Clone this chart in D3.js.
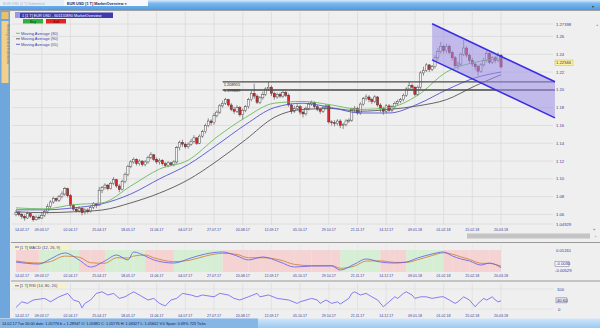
<!DOCTYPE html>
<html>
<head>
<meta charset="utf-8">
<script src="https://cdn.jsdelivr.net/npm/d3@7"></script>
<style>
    body { margin: 0; background: #efefef; overflow: hidden; }
    svg { display: block; font-family: "Liberation Sans", Arial, sans-serif; }
</style>
</head>
<body>
<script>
const width = 600;
const height = 328;

// ---- data ----
const firstDate = "14.02.17";
const dateTicks = ["09.03.17", "02.04.17", "25.04.17", "18.05.17", "11.06.17", "04.07.17", "27.07.17", "20.08.17",
    "12.09.17", "05.10.17", "29.10.17", "21.11.17", "14.12.17", "09.01.18", "01.02.18", "25.02.18", "20.03.18"];
const dateTickIdx = [9, 19, 29, 39, 49, 59, 69, 79, 89, 99, 109, 119, 129, 139, 149, 159, 169];

const firstOpen = 1.060;
const closes = [
    1.062, 1.060, 1.058, 1.056, 1.061, 1.058, 1.054, 1.057, 1.056, 1.059,
    1.063, 1.069, 1.074, 1.078, 1.076, 1.080, 1.083, 1.089, 1.081, 1.070,
    1.066, 1.064, 1.067, 1.062, 1.065, 1.063, 1.068, 1.072, 1.070, 1.087,
    1.090, 1.093, 1.089, 1.095, 1.099, 1.092, 1.088, 1.097, 1.105, 1.114,
    1.119, 1.122, 1.117, 1.120, 1.116, 1.119, 1.124, 1.127, 1.122, 1.119,
    1.121, 1.117, 1.115, 1.118, 1.116, 1.119, 1.135, 1.141, 1.139, 1.136,
    1.139, 1.142, 1.146, 1.140, 1.148, 1.153, 1.160, 1.165, 1.163, 1.171,
    1.175, 1.182, 1.185, 1.189, 1.183, 1.178, 1.176, 1.180, 1.172, 1.177,
    1.181, 1.189, 1.196, 1.193, 1.186, 1.191, 1.195, 1.201, 1.203, 1.196,
    1.192, 1.195, 1.193, 1.197, 1.194, 1.183, 1.176, 1.179, 1.181, 1.175,
    1.173, 1.179, 1.184, 1.186, 1.181, 1.178, 1.176, 1.180, 1.182, 1.164,
    1.163, 1.162, 1.165, 1.160, 1.161, 1.165, 1.166, 1.178, 1.179, 1.174,
    1.184, 1.190, 1.192, 1.189, 1.187, 1.192, 1.183, 1.179, 1.176, 1.182,
    1.177, 1.181, 1.185, 1.187, 1.189, 1.194, 1.201, 1.205, 1.203, 1.195,
    1.203, 1.219, 1.222, 1.228, 1.223, 1.226, 1.236, 1.243, 1.249, 1.244,
    1.249, 1.242, 1.236, 1.227, 1.229, 1.240, 1.247, 1.239, 1.233, 1.229,
    1.226, 1.221, 1.228, 1.233, 1.241, 1.231, 1.236, 1.233, 1.239, 1.2257
];
const highs = [
    1.065, 1.064, 1.062, 1.060, 1.063, 1.062, 1.059, 1.059, 1.059, 1.062,
    1.066, 1.072, 1.076, 1.080, 1.079, 1.082, 1.086, 1.091, 1.090, 1.083,
    1.072, 1.068, 1.069, 1.068, 1.067, 1.067, 1.070, 1.074, 1.073, 1.091,
    1.092, 1.095, 1.094, 1.097, 1.102, 1.100, 1.094, 1.099, 1.107, 1.116,
    1.121, 1.124, 1.123, 1.122, 1.121, 1.121, 1.126, 1.130, 1.128, 1.124,
    1.123, 1.122, 1.119, 1.120, 1.119, 1.121, 1.137, 1.143, 1.144, 1.141,
    1.141, 1.145, 1.149, 1.147, 1.150, 1.155, 1.162, 1.168, 1.167, 1.174,
    1.177, 1.184, 1.188, 1.191, 1.190, 1.185, 1.181, 1.183, 1.182, 1.179,
    1.183, 1.191, 1.199, 1.207, 1.195, 1.193, 1.198, 1.203, 1.209, 1.205,
    1.198, 1.197, 1.197, 1.199, 1.199, 1.196, 1.185, 1.182, 1.184, 1.183,
    1.177, 1.181, 1.186, 1.188, 1.187, 1.183, 1.180, 1.182, 1.184, 1.183,
    1.166, 1.166, 1.167, 1.167, 1.163, 1.167, 1.168, 1.180, 1.182, 1.181,
    1.186, 1.192, 1.195, 1.194, 1.191, 1.194, 1.193, 1.185, 1.181, 1.184,
    1.184, 1.183, 1.187, 1.189, 1.191, 1.196, 1.203, 1.209, 1.207, 1.204,
    1.205, 1.221, 1.226, 1.230, 1.229, 1.228, 1.239, 1.247, 1.254, 1.251,
    1.252, 1.251, 1.244, 1.238, 1.232, 1.242, 1.256, 1.249, 1.241, 1.236,
    1.231, 1.228, 1.230, 1.236, 1.244, 1.242, 1.238, 1.238, 1.242, 1.240
];
const lows = [
    1.058, 1.058, 1.055, 1.053, 1.055, 1.056, 1.052, 1.053, 1.054, 1.055,
    1.057, 1.061, 1.067, 1.072, 1.074, 1.074, 1.078, 1.081, 1.079, 1.068,
    1.064, 1.062, 1.062, 1.059, 1.060, 1.061, 1.062, 1.066, 1.067, 1.070,
    1.084, 1.088, 1.087, 1.088, 1.093, 1.090, 1.085, 1.087, 1.095, 1.103,
    1.112, 1.117, 1.115, 1.115, 1.114, 1.114, 1.117, 1.122, 1.120, 1.117,
    1.116, 1.115, 1.113, 1.113, 1.114, 1.114, 1.117, 1.132, 1.136, 1.134,
    1.134, 1.137, 1.140, 1.138, 1.139, 1.146, 1.151, 1.158, 1.160, 1.161,
    1.169, 1.173, 1.180, 1.183, 1.181, 1.176, 1.173, 1.174, 1.170, 1.167,
    1.175, 1.179, 1.187, 1.190, 1.184, 1.184, 1.189, 1.193, 1.199, 1.193,
    1.189, 1.190, 1.191, 1.191, 1.192, 1.181, 1.173, 1.174, 1.177, 1.172,
    1.169, 1.171, 1.177, 1.182, 1.179, 1.176, 1.173, 1.174, 1.178, 1.162,
    1.160, 1.159, 1.160, 1.157, 1.156, 1.159, 1.163, 1.164, 1.175, 1.172,
    1.172, 1.182, 1.188, 1.186, 1.184, 1.185, 1.181, 1.175, 1.172, 1.174,
    1.175, 1.175, 1.179, 1.183, 1.185, 1.187, 1.192, 1.199, 1.199, 1.193,
    1.193, 1.201, 1.216, 1.220, 1.220, 1.221, 1.224, 1.233, 1.241, 1.241,
    1.241, 1.240, 1.233, 1.225, 1.223, 1.227, 1.238, 1.236, 1.230, 1.226,
    1.222, 1.216, 1.219, 1.226, 1.231, 1.229, 1.229, 1.230, 1.231, 1.224
];

// moving averages
const maIdx = [0, 10, 20, 30, 40, 50, 60, 70, 80, 90, 100, 110, 120, 130, 140, 150, 160, 169];
const ma30 = [1.0674, 1.0663, 1.071, 1.073, 1.092, 1.111, 1.121, 1.147, 1.169, 1.185, 1.187, 1.183, 1.178, 1.180, 1.194, 1.220, 1.231, 1.235];
const ma55 = [1.0652, 1.0652, 1.0674, 1.072, 1.083, 1.100, 1.116, 1.138, 1.161, 1.180, 1.185, 1.180, 1.174, 1.174, 1.184, 1.200, 1.2135, 1.220];
const ma90 = [1.063, 1.062, 1.063, 1.065, 1.073, 1.084, 1.099, 1.120, 1.144, 1.169, 1.178, 1.179, 1.176, 1.178, 1.182, 1.189, 1.2045, 1.217];

const priceTicks = [1.06, 1.08, 1.10, 1.12, 1.14, 1.16, 1.18, 1.20, 1.22, 1.24, 1.26];
const priceMin = 1.04929, priceMax = 1.27398;
const lastPrice = 1.22566;

// drawn objects: trend channel and two horizontal levels
const channelTop = [[145, 1.2742], [187.8, 1.209]];
const channelBottom = [[145, 1.2337], [187.8, 1.1685]];
const levels = [1.208915, 1.199839];
const levelStart = 72, levelEnd = 187.8;

// MACD (12, 26, 9)
const macdIdx = [0, 8, 12, 17, 22, 26, 31, 35, 39, 41, 45, 48, 55, 61, 66, 72, 77, 81, 86, 92, 97, 103, 110, 113, 118, 122, 127, 132, 136, 140, 145, 149, 152, 155, 158, 162, 165, 169];
const macdLine = [0.0021, 0.0003, 0.0049, 0.0103, 0.0040, -0.0024, 0.0031, 0.0085, 0.0040, 0.0112, 0.0076, 0.0040, 0.0012, 0.0058, 0.0094, 0.0112, 0.0076, 0.0040, 0.0067, 0.0021, -0.0024, -0.0015, -0.0015, -0.0051, 0.0003, 0.0049, 0.0021, 0.0012, 0.0021, 0.0058, 0.0094, 0.0112, 0.0076, 0.0049, 0.0031, -0.0006, 0.0012, -0.0030];
const macdSignal = [0.0030, 0.0012, 0.0025, 0.0075, 0.0065, 0.0015, 0.0010, 0.0060, 0.0058, 0.0075, 0.0085, 0.0060, 0.0025, 0.0040, 0.0075, 0.0100, 0.0090, 0.0060, 0.0060, 0.0040, 0.0000, -0.0012, -0.0010, -0.0035, -0.0015, 0.0030, 0.0032, 0.0018, 0.0018, 0.0042, 0.0080, 0.0105, 0.0092, 0.0068, 0.0045, 0.0010, 0.0008, -0.0015];
const macdMax = 0.01261, macdMin = -0.00529;

// RSI
const rsiIdx = [0, 2, 4, 6, 10, 12, 15, 18, 20, 22, 23, 24, 26, 28, 30, 32, 34, 36, 38, 40, 41, 43, 46, 48, 50, 52, 54, 56, 58, 61, 63, 65, 69, 71, 74, 76, 78, 81, 84, 85, 88, 91, 95, 98, 99, 103, 105, 106, 108, 110, 112, 113, 116, 117, 118, 120, 122, 124, 126, 128, 130, 132, 133, 135, 136, 138, 139, 141, 143, 145, 148, 149, 151, 153, 154, 156, 158, 160, 161, 163, 164, 166, 167, 168, 169];
const rsiVals = [8, 36, 28, 45, 53, 36, 61, 78, 45, 36, 6, 28, 45, 78, 86, 70, 78, 53, 61, 78, 86, 70, 45, 53, 28, 15, 45, 53, 78, 70, 61, 70, 61, 78, 70, 53, 45, 61, 78, 61, 70, 53, 45, 28, 36, 53, 45, 28, 45, 28, 36, 25, 53, 78, 86, 70, 78, 61, 45, 11, 36, 61, 53, 78, 86, 70, 53, 61, 61, 53, 61, 61, 45, 28, 36, 61, 45, 11, 28, 53, 45, 61, 45, 36, 40.6];

// ---- colours ----
const bg = "#efefef";
const gridColor = "#dadada";
const axisText = "#3a3a9a";
const upFill = "#f4f4f4";
const downFill = "#d8262a";
const candleStroke = "#2a2a2a";
const ma30Color = "#66bb5a";
const ma55Color = "#5252d0";
const ma90Color = "#555555";
const channelStroke = "#3a2ee0";
const channelFill = "#9a8ee8";

const x = d3.scaleLinear().domain([0, 169]).range([16, 501]);
const y = d3.scaleLinear().domain([priceMin, priceMax]).range([224, 24]);
const yMacd = d3.scaleLinear().domain([-0.006, 0.013]).range([271, 250]);
const yRsi = d3.scaleLinear().domain([0, 100]).range([309, 289]);

const svg = d3.select("body")
    .append("svg")
    .attr("width", width)
    .attr("height", height);

const defs = svg.append("defs");
const topGrad = defs.append("linearGradient").attr("id", "topGrad").attr("x1", 0).attr("x2", 0).attr("y1", 0).attr("y2", 1);
topGrad.append("stop").attr("offset", 0).attr("stop-color", "#d9ecfc");
topGrad.append("stop").attr("offset", 0.35).attr("stop-color", "#7ab8ee");
topGrad.append("stop").attr("offset", 1).attr("stop-color", "#4f9be0");
const statGrad = defs.append("linearGradient").attr("id", "statGrad").attr("x1", 0).attr("x2", 0).attr("y1", 0).attr("y2", 1);
statGrad.append("stop").attr("offset", 0).attr("stop-color", "#cfe6fb");
statGrad.append("stop").attr("offset", 1).attr("stop-color", "#9cc9f2");

svg.append("rect").attr("width", width).attr("height", height).attr("fill", bg);

// ---- window chrome ----
svg.append("rect").attr("x", 0).attr("y", 0).attr("width", width).attr("height", 10).attr("fill", "url(#topGrad)");
svg.append("line").attr("x1", 0).attr("x2", width).attr("y1", 10.5).attr("y2", 10.5).attr("stroke", "#a0a0a0");
svg.append("rect").attr("x", 0).attr("y", 0).attr("width", 64).attr("height", 6).attr("fill", "#e8eef6");
svg.append("text").attr("x", 3).attr("y", 4.6).attr("font-size", 3.6).attr("fill", "#a8b4c4").text("EUR USD [1 T]   Submitted");
svg.append("rect").attr("x", 64).attr("y", 0).attr("width", 84).attr("height", 6).attr("fill", "#f6f8fb");
svg.append("text").attr("x", 67).attr("y", 4.6).attr("font-size", 3.8).attr("font-weight", "bold").attr("fill", "#1a2a5a").text("EUR USD [1 T]   MarketOverview   ×");
svg.append("text").attr("x", 592).attr("y", 8).attr("font-size", 4).attr("fill", "#333").text("▾");

// left sidebar
svg.append("rect").attr("x", 0).attr("y", 11).attr("width", 10).attr("height", 307).attr("fill", "#6fa7dd");
svg.append("rect").attr("x", 1.5).attr("y", 12).attr("width", 7).attr("height", 7).attr("fill", "#e8c070");
svg.append("rect").attr("x", 1.5).attr("y", 21).attr("width", 7).attr("height", 62).attr("fill", "#f1cf8c");
svg.append("text").attr("transform", "translate(6.5,24) rotate(90)").attr("font-size", 3.6).attr("fill", "#7a6a40").text("Strategies and Indicators");

// ---- main price panel ----
const main = svg.append("g");

main.selectAll(".vgrid").data(dateTickIdx)
    .join("line").attr("class", "vgrid")
    .attr("x1", d => x(d)).attr("x2", d => x(d))
    .attr("y1", 12).attr("y2", 225)
    .attr("stroke", gridColor).attr("stroke-width", 0.8);

const yLabels = [priceMax].concat(priceTicks.slice().reverse(), [priceMin]);
main.selectAll(".hgrid").data(yLabels)
    .join("line").attr("class", "hgrid")
    .attr("x1", 12).attr("x2", 553)
    .attr("y1", d => y(d)).attr("y2", d => y(d))
    .attr("stroke", gridColor).attr("stroke-width", 0.8);

main.selectAll(".ylab").data(yLabels)
    .join("text").attr("class", "ylab")
    .attr("x", 556).attr("y", d => y(d) + 1.5)
    .attr("font-size", 4.2).attr("fill", axisText)
    .text(d => (d === priceMax || d === priceMin) ? d.toFixed(5) : d.toFixed(2));

// last price tag
main.append("rect").attr("x", 555).attr("y", y(lastPrice) - 7).attr("width", 18).attr("height", 5.5)
    .attr("fill", "#fbf3a0").attr("stroke", "#b9a94a").attr("stroke-width", 0.4);
main.append("text").attr("x", 556).attr("y", y(lastPrice) - 2.6).attr("font-size", 4.2).attr("fill", "#2a2a8a").text(lastPrice.toFixed(5));

// candles
const bars = closes.map((c, i) => ({ i: i, o: i ? closes[i - 1] : firstOpen, c: c, h: highs[i], l: lows[i] }));

main.selectAll(".wick").data(bars)
    .join("line").attr("class", "wick")
    .attr("x1", d => x(d.i)).attr("x2", d => x(d.i))
    .attr("y1", d => y(d.h)).attr("y2", d => y(d.l))
    .attr("stroke", candleStroke).attr("stroke-width", 0.5);

main.selectAll(".body").data(bars)
    .join("rect").attr("class", "body")
    .attr("x", d => x(d.i) - 1.1)
    .attr("width", 2.2)
    .attr("y", d => y(Math.max(d.o, d.c)))
    .attr("height", d => Math.max(0.7, Math.abs(y(d.o) - y(d.c))))
    .attr("fill", d => d.c >= d.o ? upFill : downFill)
    .attr("stroke", candleStroke).attr("stroke-width", 0.4);

// moving averages
const maLine = d3.line().x(d => x(d[0])).y(d => y(d[1])).curve(d3.curveMonotoneX);
[[ma90, ma90Color], [ma55, ma55Color], [ma30, ma30Color]].forEach(([vals, col]) => {
    main.append("path")
        .attr("d", maLine(maIdx.map((k, j) => [k, vals[j]])))
        .attr("fill", "none").attr("stroke", col).attr("stroke-width", 0.9);
});

// horizontal levels
levels.forEach((lv, j) => {
    main.append("line")
        .attr("x1", x(levelStart)).attr("x2", x(levelEnd))
        .attr("y1", y(lv)).attr("y2", y(lv))
        .attr("stroke", "#4a4a4a").attr("stroke-width", 1.3);
    main.append("text")
        .attr("x", x(levelStart) + 1).attr("y", y(lv) + (j === 0 ? 4.2 : 1.8))
        .attr("font-size", 4).attr("fill", "#222")
        .text(lv.toFixed(6));
});

// trend channel
const chanPoly = channelTop.concat(channelBottom.slice().reverse());
main.append("path")
    .attr("d", d3.line().x(d => x(d[0])).y(d => y(d[1]))(chanPoly) + "Z")
    .attr("fill", channelFill).attr("fill-opacity", 0.55);
[channelTop, channelBottom].forEach(seg => {
    main.append("path")
        .attr("d", d3.line().x(d => x(d[0])).y(d => y(d[1]))(seg))
        .attr("stroke", channelStroke).attr("stroke-width", 1.6).attr("fill", "none");
});

// header bar, buy/sell, legend
main.append("rect").attr("x", 15).attr("y", 12.5).attr("width", 98).attr("height", 5.5).attr("fill", "#3e3ab0");
main.append("rect").attr("x", 15).attr("y", 12.5).attr("width", 5).attr("height", 5.5).attr("fill", "#9a9ae0");
main.append("text").attr("x", 22).attr("y", 16.6).attr("font-size", 3.8).attr("fill", "#fff").text("1 [1 T] EUR USD - 601155890 MarketOverview");
main.append("rect").attr("x", 23).attr("y", 19).attr("width", 20).attr("height", 4.5).attr("fill", "#30b040");
main.append("text").attr("x", 33).attr("y", 22.6).attr("font-size", 3.6).attr("text-anchor", "middle").attr("fill", "#0d3d10").text("Buy");
main.append("rect").attr("x", 46).attr("y", 19).attr("width", 20).attr("height", 4.5).attr("fill", "#e02424");
main.append("text").attr("x", 56).attr("y", 22.6).attr("font-size", 3.6).attr("text-anchor", "middle").attr("fill", "#4a0a0a").text("Sell");

const legendItems = [["Moving Average  (30)", ma30Color], ["Moving Average  (90)", ma90Color], ["Moving Average  (55)", ma55Color]];
main.selectAll(".leg").data(legendItems)
    .join("g").attr("class", "leg")
    .attr("transform", (d, i) => "translate(16," + (33.3 + i * 5.5) + ")")
    .each(function (d) {
        const g = d3.select(this);
        g.append("line").attr("x1", 0).attr("x2", 4).attr("y1", 0).attr("y2", 0).attr("stroke", d[1]).attr("stroke-width", 0.9);
        g.append("text").attr("x", 5).attr("y", 1.4).attr("font-size", 4).attr("fill", "#3a3aa8").text(d[0]);
    });

// date axis helper
function dateAxis(yPos) {
    svg.append("text").attr("x", 15).attr("y", yPos).attr("font-size", 3.6).attr("fill", axisText).text(firstDate);
    svg.selectAll(null).data(dateTickIdx)
        .join("text")
        .attr("x", d => x(d)).attr("y", yPos)
        .attr("text-anchor", "middle").attr("font-size", 3.6).attr("fill", axisText)
        .text((d, i) => dateTicks[i]);
}
dateAxis(230.5);

// scrollbar
svg.append("rect").attr("x", 467).attr("y", 233.5).attr("width", 123).attr("height", 5).attr("fill", "#c4c4c4");
svg.append("text").attr("x", 593).attr("y", 231).attr("font-size", 4).attr("fill", "#555").text("»");
svg.append("text").attr("x", 595).attr("y", 238).attr("font-size", 4).attr("fill", "#555").text("›");
svg.append("text").attr("x", 596).attr("y", 26).attr("font-size", 4).attr("fill", "#555").text("+");

// panel separators
[242.5, 281].forEach(v => {
    svg.append("line").attr("x1", 11).attr("x2", width).attr("y1", v).attr("y2", v).attr("stroke", "#9a9a9a").attr("stroke-width", 1.2);
});

// ---- MACD panel ----
const macdPts = macdIdx.map((k, j) => ({ i: k, m: macdLine[j], s: macdSignal[j] }));
const bands = macdPts.slice(1).map((d, j) => {
    const a = macdPts[j];
    return { a: a.i, b: d.i, up: (a.m + d.m) - (a.s + d.s) >= 0 };
});
svg.selectAll(".band").data(bands)
    .join("rect").attr("class", "band")
    .attr("x", d => x(d.a)).attr("width", d => x(d.b) - x(d.a))
    .attr("y", 250).attr("height", 22)
    .attr("fill", d => d.up ? "#d6efd4" : "#f6d3d3");

svg.selectAll(".mgrid").data(dateTickIdx)
    .join("line").attr("class", "mgrid")
    .attr("x1", d => x(d)).attr("x2", d => x(d))
    .attr("y1", 244).attr("y2", 272)
    .attr("stroke", gridColor).attr("stroke-width", 0.5).attr("stroke-opacity", 0.6);

const macdPath = key => d3.line().x(d => x(d.i)).y(d => yMacd(d[key])).curve(d3.curveMonotoneX)(macdPts);
svg.append("path").attr("d", macdPath("s")).attr("fill", "none").attr("stroke", "#d2782e").attr("stroke-width", 0.8);
svg.append("path").attr("d", macdPath("m")).attr("fill", "none").attr("stroke", "#5a5af2").attr("stroke-width", 0.8);

svg.append("rect").attr("x", 14).attr("y", 244.5).attr("width", 55).attr("height", 5).attr("fill", "#f7f2c8");
svg.append("line").attr("x1", 15).attr("x2", 19).attr("y1", 247).attr("y2", 247).attr("stroke", "#5a5af2").attr("stroke-width", 0.9);
svg.append("text").attr("x", 20).attr("y", 248.5).attr("font-size", 4).attr("fill", "#3a3aa8").text("[1 T] MACD  (12, 26, 9)");

svg.append("text").attr("x", 556).attr("y", yMacd(macdMax) + 1.5).attr("font-size", 4.2).attr("fill", axisText).text(macdMax.toFixed(5));
svg.append("rect").attr("x", 555).attr("y", yMacd(macdLine[macdLine.length - 1]) - 6.5).attr("width", 14).attr("height", 5).attr("fill", "#fafafa").attr("stroke", "#555").attr("stroke-width", 0.4);
svg.append("text").attr("x", 556).attr("y", yMacd(macdLine[macdLine.length - 1]) - 2.6).attr("font-size", 4.2).attr("fill", "#2a2a9a").text(macdLine[macdLine.length - 1].toFixed(4));
svg.append("text").attr("x", 555).attr("y", yMacd(macdMin) + 1.5).attr("font-size", 4.2).attr("fill", axisText).text(macdMin.toFixed(5));
dateAxis(277);

// ---- RSI panel ----
svg.selectAll(".rgrid").data(dateTickIdx)
    .join("line").attr("class", "rgrid")
    .attr("x1", d => x(d)).attr("x2", d => x(d))
    .attr("y1", 283).attr("y2", 311)
    .attr("stroke", gridColor).attr("stroke-width", 0.6);
[100, 0].forEach(v => {
    svg.append("line").attr("x1", 12).attr("x2", 553).attr("y1", yRsi(v)).attr("y2", yRsi(v)).attr("stroke", gridColor).attr("stroke-width", 0.6);
});
svg.append("path")
    .attr("d", d3.line().x(d => x(d[0])).y(d => yRsi(d[1]))(rsiIdx.map((k, j) => [k, rsiVals[j]])))
    .attr("fill", "none").attr("stroke", "#6a5ef0").attr("stroke-width", 0.8);

svg.append("rect").attr("x", 14).attr("y", 283.3).attr("width", 52).attr("height", 5).attr("fill", "#f7f2c8");
svg.append("line").attr("x1", 15).attr("x2", 19).attr("y1", 285.8).attr("y2", 285.8).attr("stroke", "#6a5ef0").attr("stroke-width", 0.9);
svg.append("text").attr("x", 20).attr("y", 287.3).attr("font-size", 4).attr("fill", "#3a3aa8").text("[1 T] RSI  (14, 80, 20)");

const lastRsi = rsiVals[rsiVals.length - 1];
svg.append("text").attr("x", 557).attr("y", yRsi(100) + 1.5).attr("font-size", 4.2).attr("fill", axisText).text("100");
svg.append("rect").attr("x", 556).attr("y", yRsi(lastRsi) - 3).attr("width", 11).attr("height", 5).attr("fill", "#e4e4f6").attr("stroke", "#555").attr("stroke-width", 0.4);
svg.append("text").attr("x", 557).attr("y", yRsi(lastRsi) + 1.2).attr("font-size", 4.2).attr("fill", "#2a2a9a").text(lastRsi.toFixed(2));
svg.append("text").attr("x", 558).attr("y", yRsi(0) + 1.5).attr("font-size", 4.2).attr("fill", axisText).text("0");
dateAxis(316.5);

// ---- status bar ----
svg.append("rect").attr("x", 0).attr("y", 318.5).attr("width", width).attr("height", 9.5).attr("fill", "url(#statGrad)");
svg.append("rect").attr("x", 0).attr("y", 318.5).attr("width", 258).attr("height", 9.5).attr("fill", "#86b6e6");
svg.append("text").attr("x", 2).attr("y", 324.5).attr("font-size", 3.8).attr("fill", "#10204a")
    .text("14.02.17 Tue  00:00  date: 1.05776 b + 1.28947      O: 1.05881 C: 1.05776 H: 1.06327 L: 1.05602 V:0 Spain: 0.69% 723 Ticks");
</script>
</body>
</html>
